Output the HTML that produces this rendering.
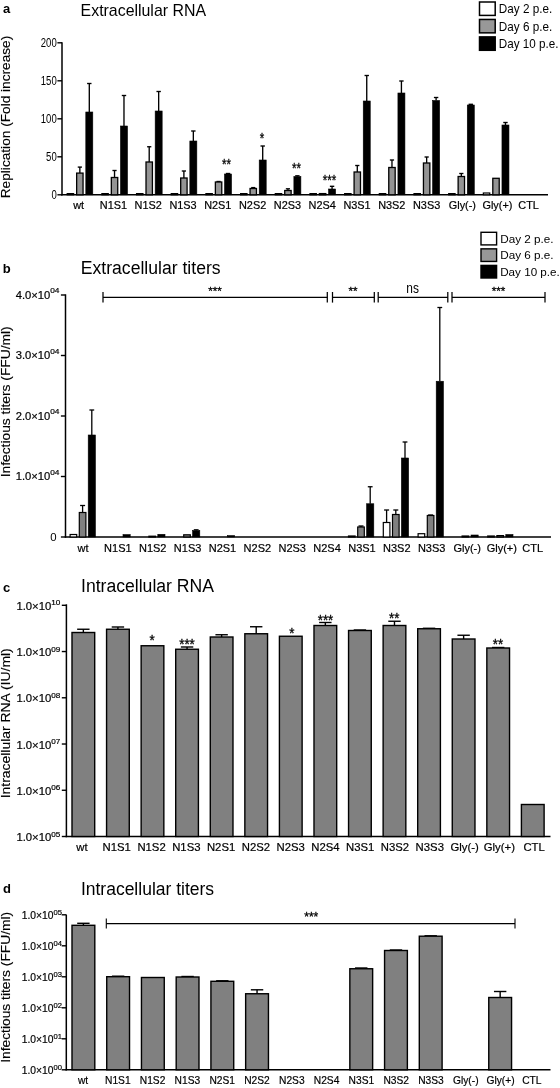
<!DOCTYPE html>
<html><head><meta charset="utf-8"><title>Figure</title>
<style>
html,body{margin:0;padding:0;background:#fff;}
body{width:560px;height:1088px;overflow:hidden;}
svg{display:block;font-family:'Liberation Sans', Arial, sans-serif;fill:#000;}
svg text.s{stroke:#000;stroke-width:0.2px;}
svg text.st{stroke:#000;stroke-width:0.3px;}
svg text.v{stroke:#000;stroke-width:0.12px;}
</style></head><body>
<svg width="560" height="1088" viewBox="0 0 560 1088">
<rect x="0" y="0" width="560" height="1088" fill="#fff" stroke="none"/>
<text x="3" y="13.2" font-size="13" text-anchor="start" font-weight="bold" >a</text>
<text x="143.3" y="16" font-size="15.9" text-anchor="middle" >Extracellular RNA</text>
<text class="v" transform="translate(9.9,198.25) rotate(-90)" font-size="12.9" textLength="162.5" lengthAdjust="spacingAndGlyphs">Replication (Fold increase)</text>
<line x1="62" y1="42.3" x2="62" y2="195.5" stroke="#000" stroke-width="1.5"/>
<line x1="61.3" y1="194.8" x2="548" y2="194.8" stroke="#000" stroke-width="1.5"/>
<line x1="57.4" y1="194.8" x2="62" y2="194.8" stroke="#000" stroke-width="1.4"/>
<text x="56.7" y="199.3" font-size="12.5" text-anchor="end" textLength="5.3" lengthAdjust="spacingAndGlyphs" >0</text>
<line x1="57.4" y1="156.8" x2="62" y2="156.8" stroke="#000" stroke-width="1.4"/>
<text x="56.7" y="161.3" font-size="12.5" text-anchor="end" textLength="10.6" lengthAdjust="spacingAndGlyphs" >50</text>
<line x1="57.4" y1="118.80000000000001" x2="62" y2="118.80000000000001" stroke="#000" stroke-width="1.4"/>
<text x="56.7" y="123.30000000000001" font-size="12.5" text-anchor="end" textLength="15.899999999999999" lengthAdjust="spacingAndGlyphs" >100</text>
<line x1="57.4" y1="80.80000000000001" x2="62" y2="80.80000000000001" stroke="#000" stroke-width="1.4"/>
<text x="56.7" y="85.30000000000001" font-size="12.5" text-anchor="end" textLength="15.899999999999999" lengthAdjust="spacingAndGlyphs" >150</text>
<line x1="57.4" y1="42.80000000000001" x2="62" y2="42.80000000000001" stroke="#000" stroke-width="1.4"/>
<text x="56.7" y="47.30000000000001" font-size="12.5" text-anchor="end" textLength="15.899999999999999" lengthAdjust="spacingAndGlyphs" >200</text>
<rect x="479.50" y="2.00" width="15.70" height="13.40" fill="#fff" stroke="#000" stroke-width="1.5"/>
<text x="498.8" y="13.3" font-size="12.4" text-anchor="start" textLength="53.4" lengthAdjust="spacingAndGlyphs" >Day 2 p.e.</text>
<rect x="479.50" y="19.45" width="15.70" height="13.40" fill="#989898" stroke="#000" stroke-width="1.5"/>
<text x="498.8" y="30.75" font-size="12.4" text-anchor="start" textLength="53.4" lengthAdjust="spacingAndGlyphs" >Day 6 p.e.</text>
<rect x="479.50" y="36.90" width="15.70" height="13.40" fill="#000" stroke="#000" stroke-width="1.5"/>
<text x="498.8" y="48.2" font-size="12.4" text-anchor="start" textLength="59.6" lengthAdjust="spacingAndGlyphs" >Day 10 p.e.</text>
<rect x="67.20" y="193.60" width="6.40" height="1.20" fill="#fff" stroke="#000" stroke-width="1.2"/>
<line x1="79.85000000000001" y1="167.1" x2="79.85000000000001" y2="173.1" stroke="#000" stroke-width="1.35"/>
<line x1="77.75000000000001" y1="167.1" x2="81.95" y2="167.1" stroke="#000" stroke-width="1.35"/>
<rect x="76.65" y="173.10" width="6.40" height="21.70" fill="#949494" stroke="#000" stroke-width="1.3"/>
<line x1="89.30000000000001" y1="83.5" x2="89.30000000000001" y2="112" stroke="#000" stroke-width="1.35"/>
<line x1="87.10000000000001" y1="83.5" x2="91.50000000000001" y2="83.5" stroke="#000" stroke-width="1.35"/>
<rect x="85.80" y="112.00" width="7.00" height="82.80" fill="#000" stroke="#000" stroke-width="0.6"/>
<rect x="101.88" y="193.60" width="6.40" height="1.20" fill="#fff" stroke="#000" stroke-width="1.2"/>
<line x1="114.53" y1="170.5" x2="114.53" y2="177.5" stroke="#000" stroke-width="1.35"/>
<line x1="112.43" y1="170.5" x2="116.63" y2="170.5" stroke="#000" stroke-width="1.35"/>
<rect x="111.33" y="177.50" width="6.40" height="17.30" fill="#949494" stroke="#000" stroke-width="1.3"/>
<line x1="123.98" y1="95.5" x2="123.98" y2="126" stroke="#000" stroke-width="1.35"/>
<line x1="121.78" y1="95.5" x2="126.18" y2="95.5" stroke="#000" stroke-width="1.35"/>
<rect x="120.48" y="126.00" width="7.00" height="68.80" fill="#000" stroke="#000" stroke-width="0.6"/>
<rect x="136.56" y="193.60" width="6.40" height="1.20" fill="#fff" stroke="#000" stroke-width="1.2"/>
<line x1="149.21" y1="146.75" x2="149.21" y2="162" stroke="#000" stroke-width="1.35"/>
<line x1="147.11" y1="146.75" x2="151.31" y2="146.75" stroke="#000" stroke-width="1.35"/>
<rect x="146.01" y="162.00" width="6.40" height="32.80" fill="#949494" stroke="#000" stroke-width="1.3"/>
<line x1="158.66000000000003" y1="91.5" x2="158.66000000000003" y2="111" stroke="#000" stroke-width="1.35"/>
<line x1="156.46000000000004" y1="91.5" x2="160.86" y2="91.5" stroke="#000" stroke-width="1.35"/>
<rect x="155.16" y="111.00" width="7.00" height="83.80" fill="#000" stroke="#000" stroke-width="0.6"/>
<rect x="171.24" y="193.60" width="6.40" height="1.20" fill="#fff" stroke="#000" stroke-width="1.2"/>
<line x1="183.89000000000001" y1="171" x2="183.89000000000001" y2="178" stroke="#000" stroke-width="1.35"/>
<line x1="181.79000000000002" y1="171" x2="185.99" y2="171" stroke="#000" stroke-width="1.35"/>
<rect x="180.69" y="178.00" width="6.40" height="16.80" fill="#949494" stroke="#000" stroke-width="1.3"/>
<line x1="193.34000000000003" y1="131" x2="193.34000000000003" y2="141" stroke="#000" stroke-width="1.35"/>
<line x1="191.14000000000004" y1="131" x2="195.54000000000002" y2="131" stroke="#000" stroke-width="1.35"/>
<rect x="189.84" y="141.00" width="7.00" height="53.80" fill="#000" stroke="#000" stroke-width="0.6"/>
<rect x="205.92" y="193.60" width="6.40" height="1.20" fill="#fff" stroke="#000" stroke-width="1.2"/>
<line x1="218.57000000000002" y1="181.5" x2="218.57000000000002" y2="182" stroke="#000" stroke-width="1.35"/>
<line x1="216.47000000000003" y1="181.5" x2="220.67000000000002" y2="181.5" stroke="#000" stroke-width="1.35"/>
<rect x="215.37" y="182.00" width="6.40" height="12.80" fill="#949494" stroke="#000" stroke-width="1.3"/>
<line x1="228.02000000000004" y1="173.5" x2="228.02000000000004" y2="174" stroke="#000" stroke-width="1.35"/>
<line x1="225.82000000000005" y1="173.5" x2="230.22000000000003" y2="173.5" stroke="#000" stroke-width="1.35"/>
<rect x="224.52" y="174.00" width="7.00" height="20.80" fill="#000" stroke="#000" stroke-width="0.6"/>
<rect x="240.60" y="193.60" width="6.40" height="1.20" fill="#fff" stroke="#000" stroke-width="1.2"/>
<line x1="253.25000000000003" y1="187.6" x2="253.25000000000003" y2="188.5" stroke="#000" stroke-width="1.35"/>
<line x1="251.15000000000003" y1="187.6" x2="255.35000000000002" y2="187.6" stroke="#000" stroke-width="1.35"/>
<rect x="250.05" y="188.50" width="6.40" height="6.30" fill="#949494" stroke="#000" stroke-width="1.3"/>
<line x1="262.70000000000005" y1="146" x2="262.70000000000005" y2="160" stroke="#000" stroke-width="1.35"/>
<line x1="260.50000000000006" y1="146" x2="264.90000000000003" y2="146" stroke="#000" stroke-width="1.35"/>
<rect x="259.20" y="160.00" width="7.00" height="34.80" fill="#000" stroke="#000" stroke-width="0.6"/>
<rect x="275.28" y="193.60" width="6.40" height="1.20" fill="#fff" stroke="#000" stroke-width="1.2"/>
<line x1="287.92999999999995" y1="188.8" x2="287.92999999999995" y2="190.5" stroke="#000" stroke-width="1.35"/>
<line x1="285.8299999999999" y1="188.8" x2="290.03" y2="188.8" stroke="#000" stroke-width="1.35"/>
<rect x="284.73" y="190.50" width="6.40" height="4.30" fill="#949494" stroke="#000" stroke-width="1.3"/>
<line x1="297.37999999999994" y1="175.8" x2="297.37999999999994" y2="176.5" stroke="#000" stroke-width="1.35"/>
<line x1="295.17999999999995" y1="175.8" x2="299.5799999999999" y2="175.8" stroke="#000" stroke-width="1.35"/>
<rect x="293.88" y="176.50" width="7.00" height="18.30" fill="#000" stroke="#000" stroke-width="0.6"/>
<rect x="309.96" y="193.60" width="6.40" height="1.20" fill="#fff" stroke="#000" stroke-width="1.2"/>
<rect x="319.41" y="193.60" width="6.40" height="1.20" fill="#949494" stroke="#000" stroke-width="1.3"/>
<line x1="332.05999999999995" y1="186.3" x2="332.05999999999995" y2="189" stroke="#000" stroke-width="1.35"/>
<line x1="329.85999999999996" y1="186.3" x2="334.25999999999993" y2="186.3" stroke="#000" stroke-width="1.35"/>
<rect x="328.56" y="189.00" width="7.00" height="5.80" fill="#000" stroke="#000" stroke-width="0.6"/>
<rect x="344.64" y="193.60" width="6.40" height="1.20" fill="#fff" stroke="#000" stroke-width="1.2"/>
<line x1="357.28999999999996" y1="165.5" x2="357.28999999999996" y2="172" stroke="#000" stroke-width="1.35"/>
<line x1="355.18999999999994" y1="165.5" x2="359.39" y2="165.5" stroke="#000" stroke-width="1.35"/>
<rect x="354.09" y="172.00" width="6.40" height="22.80" fill="#949494" stroke="#000" stroke-width="1.3"/>
<line x1="366.73999999999995" y1="75.5" x2="366.73999999999995" y2="101" stroke="#000" stroke-width="1.35"/>
<line x1="364.53999999999996" y1="75.5" x2="368.93999999999994" y2="75.5" stroke="#000" stroke-width="1.35"/>
<rect x="363.24" y="101.00" width="7.00" height="93.80" fill="#000" stroke="#000" stroke-width="0.6"/>
<rect x="379.32" y="193.60" width="6.40" height="1.20" fill="#fff" stroke="#000" stroke-width="1.2"/>
<line x1="391.96999999999997" y1="160" x2="391.96999999999997" y2="167.5" stroke="#000" stroke-width="1.35"/>
<line x1="389.86999999999995" y1="160" x2="394.07" y2="160" stroke="#000" stroke-width="1.35"/>
<rect x="388.77" y="167.50" width="6.40" height="27.30" fill="#949494" stroke="#000" stroke-width="1.3"/>
<line x1="401.41999999999996" y1="81" x2="401.41999999999996" y2="93" stroke="#000" stroke-width="1.35"/>
<line x1="399.21999999999997" y1="81" x2="403.61999999999995" y2="81" stroke="#000" stroke-width="1.35"/>
<rect x="397.92" y="93.00" width="7.00" height="101.80" fill="#000" stroke="#000" stroke-width="0.6"/>
<rect x="414.00" y="193.60" width="6.40" height="1.20" fill="#fff" stroke="#000" stroke-width="1.2"/>
<line x1="426.65" y1="157" x2="426.65" y2="163" stroke="#000" stroke-width="1.35"/>
<line x1="424.54999999999995" y1="157" x2="428.75" y2="157" stroke="#000" stroke-width="1.35"/>
<rect x="423.45" y="163.00" width="6.40" height="31.80" fill="#949494" stroke="#000" stroke-width="1.3"/>
<line x1="436.09999999999997" y1="97.5" x2="436.09999999999997" y2="100.5" stroke="#000" stroke-width="1.35"/>
<line x1="433.9" y1="97.5" x2="438.29999999999995" y2="97.5" stroke="#000" stroke-width="1.35"/>
<rect x="432.60" y="100.50" width="7.00" height="94.30" fill="#000" stroke="#000" stroke-width="0.6"/>
<rect x="448.68" y="193.60" width="6.40" height="1.20" fill="#fff" stroke="#000" stroke-width="1.2"/>
<line x1="461.33" y1="173.5" x2="461.33" y2="176.5" stroke="#000" stroke-width="1.35"/>
<line x1="459.22999999999996" y1="173.5" x2="463.43" y2="173.5" stroke="#000" stroke-width="1.35"/>
<rect x="458.13" y="176.50" width="6.40" height="18.30" fill="#949494" stroke="#000" stroke-width="1.3"/>
<line x1="470.78" y1="104.3" x2="470.78" y2="105" stroke="#000" stroke-width="1.35"/>
<line x1="468.58" y1="104.3" x2="472.97999999999996" y2="104.3" stroke="#000" stroke-width="1.35"/>
<rect x="467.28" y="105.00" width="7.00" height="89.80" fill="#000" stroke="#000" stroke-width="0.6"/>
<rect x="483.36" y="193.00" width="6.40" height="1.80" fill="#fff" stroke="#000" stroke-width="1.2"/>
<rect x="492.81" y="178.30" width="6.40" height="16.50" fill="#949494" stroke="#000" stroke-width="1.3"/>
<line x1="505.4599999999999" y1="122.5" x2="505.4599999999999" y2="125" stroke="#000" stroke-width="1.35"/>
<line x1="503.25999999999993" y1="122.5" x2="507.6599999999999" y2="122.5" stroke="#000" stroke-width="1.35"/>
<rect x="501.96" y="125.00" width="7.00" height="69.80" fill="#000" stroke="#000" stroke-width="0.6"/>
<text x="78.6" y="208.6" font-size="10.9" text-anchor="middle" class="s">wt</text>
<text x="113.39999999999999" y="208.6" font-size="10.9" text-anchor="middle" class="s">N1S1</text>
<text x="148.2" y="208.6" font-size="10.9" text-anchor="middle" class="s">N1S2</text>
<text x="183.0" y="208.6" font-size="10.9" text-anchor="middle" class="s">N1S3</text>
<text x="217.79999999999998" y="208.6" font-size="10.9" text-anchor="middle" class="s">N2S1</text>
<text x="252.6" y="208.6" font-size="10.9" text-anchor="middle" class="s">N2S2</text>
<text x="287.4" y="208.6" font-size="10.9" text-anchor="middle" class="s">N2S3</text>
<text x="322.19999999999993" y="208.6" font-size="10.9" text-anchor="middle" class="s">N2S4</text>
<text x="357.0" y="208.6" font-size="10.9" text-anchor="middle" class="s">N3S1</text>
<text x="391.79999999999995" y="208.6" font-size="10.9" text-anchor="middle" class="s">N3S2</text>
<text x="426.6" y="208.6" font-size="10.9" text-anchor="middle" class="s">N3S3</text>
<text x="462.4" y="208.6" font-size="10.9" text-anchor="middle" class="s">Gly(-)</text>
<text x="497.4" y="208.6" font-size="10.9" text-anchor="middle" class="s">Gly(+)</text>
<text x="528.6" y="208.6" font-size="10.9" text-anchor="middle" class="s">CTL</text>
<text class="st" x="222.10" y="169.10" font-size="14" textLength="9.0" lengthAdjust="spacingAndGlyphs">**</text>
<text class="st" x="259.85" y="142.80" font-size="14" textLength="4.5" lengthAdjust="spacingAndGlyphs">*</text>
<text class="st" x="291.90" y="173.30" font-size="14" textLength="9.0" lengthAdjust="spacingAndGlyphs">**</text>
<text class="st" x="322.65" y="184.80" font-size="14" textLength="13.5" lengthAdjust="spacingAndGlyphs">***</text>
<text x="2.8" y="273" font-size="13" text-anchor="start" font-weight="bold" >b</text>
<text x="150.7" y="274" font-size="17.6" text-anchor="middle" >Extracellular titers</text>
<text class="v" transform="translate(9.9,477.3) rotate(-90)" font-size="12.3" textLength="151" lengthAdjust="spacingAndGlyphs">Infectious titers (FFU/ml)</text>
<line x1="65.5" y1="294.3" x2="65.5" y2="537.7" stroke="#000" stroke-width="1.5"/>
<line x1="64.8" y1="537" x2="551" y2="537" stroke="#000" stroke-width="1.5"/>
<line x1="60.9" y1="537.0" x2="65.5" y2="537.0" stroke="#000" stroke-width="1.4"/>
<text x="56.5" y="541.0" font-size="11.4" text-anchor="end" >0</text>
<line x1="60.9" y1="476.5" x2="65.5" y2="476.5" stroke="#000" stroke-width="1.4"/>
<text class="s" x="15.70" y="480.3" font-size="10.8" textLength="43.8" lengthAdjust="spacingAndGlyphs">1.0×10<tspan font-size="8" dy="-5.4">04</tspan></text>
<line x1="60.9" y1="416.0" x2="65.5" y2="416.0" stroke="#000" stroke-width="1.4"/>
<text class="s" x="15.70" y="419.8" font-size="10.8" textLength="43.8" lengthAdjust="spacingAndGlyphs">2.0×10<tspan font-size="8" dy="-5.4">04</tspan></text>
<line x1="60.9" y1="355.5" x2="65.5" y2="355.5" stroke="#000" stroke-width="1.4"/>
<text class="s" x="15.70" y="359.3" font-size="10.8" textLength="43.8" lengthAdjust="spacingAndGlyphs">3.0×10<tspan font-size="8" dy="-5.4">04</tspan></text>
<line x1="60.9" y1="295.0" x2="65.5" y2="295.0" stroke="#000" stroke-width="1.4"/>
<text class="s" x="15.70" y="298.8" font-size="10.8" textLength="43.8" lengthAdjust="spacingAndGlyphs">4.0×10<tspan font-size="8" dy="-5.4">04</tspan></text>
<rect x="481.00" y="232.30" width="15.60" height="12.60" fill="#fff" stroke="#000" stroke-width="1.4"/>
<text x="500.2" y="242.5" font-size="11.2" text-anchor="start" textLength="53.4" lengthAdjust="spacingAndGlyphs" >Day 2 p.e.</text>
<rect x="481.00" y="248.85" width="15.60" height="12.60" fill="#989898" stroke="#000" stroke-width="1.4"/>
<text x="500.2" y="259.05" font-size="11.2" text-anchor="start" textLength="53.4" lengthAdjust="spacingAndGlyphs" >Day 6 p.e.</text>
<rect x="481.00" y="265.40" width="15.60" height="12.60" fill="#000" stroke="#000" stroke-width="1.4"/>
<text x="500.2" y="275.6" font-size="11.2" text-anchor="start" textLength="59.6" lengthAdjust="spacingAndGlyphs" >Day 10 p.e.</text>
<line x1="103" y1="297.3" x2="327.3" y2="297.3" stroke="#000" stroke-width="1.25"/>
<line x1="103" y1="292.0" x2="103" y2="302.6" stroke="#000" stroke-width="1.25"/>
<line x1="327.3" y1="292.0" x2="327.3" y2="302.6" stroke="#000" stroke-width="1.25"/>
<text class="st" x="208.25" y="294.95" font-size="11.5" textLength="13.5" lengthAdjust="spacingAndGlyphs">***</text>
<line x1="332.5" y1="297.3" x2="374.3" y2="297.3" stroke="#000" stroke-width="1.25"/>
<line x1="332.5" y1="292.0" x2="332.5" y2="302.6" stroke="#000" stroke-width="1.25"/>
<line x1="374.3" y1="292.0" x2="374.3" y2="302.6" stroke="#000" stroke-width="1.25"/>
<text class="st" x="348.50" y="294.95" font-size="11.5" textLength="9.0" lengthAdjust="spacingAndGlyphs">**</text>
<line x1="378.2" y1="297.3" x2="447.8" y2="297.3" stroke="#000" stroke-width="1.25"/>
<line x1="378.2" y1="292.0" x2="378.2" y2="302.6" stroke="#000" stroke-width="1.25"/>
<line x1="447.8" y1="292.0" x2="447.8" y2="302.6" stroke="#000" stroke-width="1.25"/>
<text x="406.3" y="293.1" font-size="14" text-anchor="start" textLength="12.6" lengthAdjust="spacingAndGlyphs" >ns</text>
<line x1="452" y1="297.3" x2="545" y2="297.3" stroke="#000" stroke-width="1.25"/>
<line x1="452" y1="292.0" x2="452" y2="302.6" stroke="#000" stroke-width="1.25"/>
<line x1="545" y1="292.0" x2="545" y2="302.6" stroke="#000" stroke-width="1.25"/>
<text class="st" x="491.75" y="294.95" font-size="11.5" textLength="13.5" lengthAdjust="spacingAndGlyphs">***</text>
<rect x="70.10" y="534.50" width="6.60" height="2.50" fill="#fff" stroke="#000" stroke-width="1.2"/>
<line x1="82.59999999999998" y1="505.5" x2="82.59999999999998" y2="512.5" stroke="#000" stroke-width="1.3"/>
<line x1="80.09999999999998" y1="505.5" x2="85.09999999999998" y2="505.5" stroke="#000" stroke-width="1.3"/>
<rect x="79.30" y="512.50" width="6.60" height="24.50" fill="#808080" stroke="#000" stroke-width="1.2"/>
<line x1="91.79999999999997" y1="410" x2="91.79999999999997" y2="435" stroke="#000" stroke-width="1.3"/>
<line x1="89.39999999999996" y1="410" x2="94.19999999999997" y2="410" stroke="#000" stroke-width="1.3"/>
<rect x="88.20" y="435.00" width="7.20" height="102.00" fill="#000" stroke="#000" stroke-width="0.6"/>
<rect x="123.00" y="534.60" width="7.20" height="2.40" fill="#000" stroke="#000" stroke-width="0.6"/>
<rect x="148.90" y="536.20" width="6.60" height="0.80" fill="#808080" stroke="#000" stroke-width="1.2"/>
<rect x="157.80" y="534.30" width="7.20" height="2.70" fill="#000" stroke="#000" stroke-width="0.6"/>
<rect x="183.70" y="534.80" width="6.60" height="2.20" fill="#808080" stroke="#000" stroke-width="1.2"/>
<line x1="196.2" y1="529.8" x2="196.2" y2="530.5" stroke="#000" stroke-width="1.3"/>
<line x1="193.79999999999998" y1="529.8" x2="198.6" y2="529.8" stroke="#000" stroke-width="1.3"/>
<rect x="192.60" y="530.50" width="7.20" height="6.50" fill="#000" stroke="#000" stroke-width="0.6"/>
<rect x="227.40" y="535.60" width="7.20" height="1.40" fill="#000" stroke="#000" stroke-width="0.6"/>
<rect x="348.50" y="536.00" width="6.60" height="1.00" fill="#fff" stroke="#000" stroke-width="1.2"/>
<line x1="361.00000000000006" y1="526" x2="361.00000000000006" y2="527" stroke="#000" stroke-width="1.3"/>
<line x1="358.50000000000006" y1="526" x2="363.50000000000006" y2="526" stroke="#000" stroke-width="1.3"/>
<rect x="357.70" y="527.00" width="6.60" height="10.00" fill="#808080" stroke="#000" stroke-width="1.2"/>
<line x1="370.2000000000001" y1="486.75" x2="370.2000000000001" y2="503.75" stroke="#000" stroke-width="1.3"/>
<line x1="367.8000000000001" y1="486.75" x2="372.6000000000001" y2="486.75" stroke="#000" stroke-width="1.3"/>
<rect x="366.60" y="503.75" width="7.20" height="33.25" fill="#000" stroke="#000" stroke-width="0.6"/>
<line x1="386.59999999999997" y1="510" x2="386.59999999999997" y2="522.5" stroke="#000" stroke-width="1.3"/>
<line x1="384.09999999999997" y1="510" x2="389.09999999999997" y2="510" stroke="#000" stroke-width="1.3"/>
<rect x="383.30" y="522.50" width="6.60" height="14.50" fill="#fff" stroke="#000" stroke-width="1.2"/>
<line x1="395.8" y1="510" x2="395.8" y2="514.5" stroke="#000" stroke-width="1.3"/>
<line x1="393.3" y1="510" x2="398.3" y2="510" stroke="#000" stroke-width="1.3"/>
<rect x="392.50" y="514.50" width="6.60" height="22.50" fill="#808080" stroke="#000" stroke-width="1.2"/>
<line x1="405.00000000000006" y1="442" x2="405.00000000000006" y2="458" stroke="#000" stroke-width="1.3"/>
<line x1="402.6000000000001" y1="442" x2="407.40000000000003" y2="442" stroke="#000" stroke-width="1.3"/>
<rect x="401.40" y="458.00" width="7.20" height="79.00" fill="#000" stroke="#000" stroke-width="0.6"/>
<rect x="418.10" y="533.70" width="6.60" height="3.30" fill="#fff" stroke="#000" stroke-width="1.2"/>
<line x1="430.6000000000001" y1="515" x2="430.6000000000001" y2="515.5" stroke="#000" stroke-width="1.3"/>
<line x1="428.1000000000001" y1="515" x2="433.1000000000001" y2="515" stroke="#000" stroke-width="1.3"/>
<rect x="427.30" y="515.50" width="6.60" height="21.50" fill="#808080" stroke="#000" stroke-width="1.2"/>
<line x1="439.8000000000001" y1="307.5" x2="439.8000000000001" y2="381.25" stroke="#000" stroke-width="1.3"/>
<line x1="437.40000000000015" y1="307.5" x2="442.2000000000001" y2="307.5" stroke="#000" stroke-width="1.3"/>
<rect x="436.20" y="381.25" width="7.20" height="155.75" fill="#000" stroke="#000" stroke-width="0.6"/>
<rect x="462.10" y="536.00" width="6.60" height="1.00" fill="#808080" stroke="#000" stroke-width="1.2"/>
<rect x="471.00" y="535.00" width="7.20" height="2.00" fill="#000" stroke="#000" stroke-width="0.6"/>
<rect x="487.70" y="536.00" width="6.60" height="1.00" fill="#fff" stroke="#000" stroke-width="1.2"/>
<rect x="496.90" y="535.60" width="6.60" height="1.40" fill="#808080" stroke="#000" stroke-width="1.2"/>
<rect x="505.80" y="534.50" width="7.20" height="2.50" fill="#000" stroke="#000" stroke-width="0.6"/>
<text x="83.0" y="552" font-size="11" text-anchor="middle" class="s">wt</text>
<text x="117.87" y="552" font-size="11" text-anchor="middle" class="s">N1S1</text>
<text x="152.74" y="552" font-size="11" text-anchor="middle" class="s">N1S2</text>
<text x="187.60999999999999" y="552" font-size="11" text-anchor="middle" class="s">N1S3</text>
<text x="222.48" y="552" font-size="11" text-anchor="middle" class="s">N2S1</text>
<text x="257.35" y="552" font-size="11" text-anchor="middle" class="s">N2S2</text>
<text x="292.21999999999997" y="552" font-size="11" text-anchor="middle" class="s">N2S3</text>
<text x="327.09" y="552" font-size="11" text-anchor="middle" class="s">N2S4</text>
<text x="361.96" y="552" font-size="11" text-anchor="middle" class="s">N3S1</text>
<text x="396.83" y="552" font-size="11" text-anchor="middle" class="s">N3S2</text>
<text x="431.7" y="552" font-size="11" text-anchor="middle" class="s">N3S3</text>
<text x="467.2" y="552" font-size="11" text-anchor="middle" class="s">Gly(-)</text>
<text x="501.8" y="552" font-size="11" text-anchor="middle" class="s">Gly(+)</text>
<text x="532.7" y="552" font-size="11" text-anchor="middle" class="s">CTL</text>
<text x="3" y="592" font-size="13" text-anchor="start" font-weight="bold" >c</text>
<text x="147.5" y="592.3" font-size="17.6" text-anchor="middle" >Intracellular RNA</text>
<text class="v" transform="translate(9.9,798.3) rotate(-90)" font-size="12.3" textLength="150" lengthAdjust="spacingAndGlyphs">Intracellular RNA (IU/ml)</text>
<line x1="66.4" y1="604.3" x2="66.4" y2="837.2" stroke="#000" stroke-width="1.5"/>
<line x1="65.7" y1="836.5" x2="550.5" y2="836.5" stroke="#000" stroke-width="1.5"/>
<line x1="61.800000000000004" y1="836.5" x2="66.4" y2="836.5" stroke="#000" stroke-width="1.4"/>
<text class="s" x="16.40" y="841.2" font-size="10.8" textLength="44" lengthAdjust="spacingAndGlyphs">1.0×10<tspan font-size="7.8" dy="-4.7">05</tspan></text>
<line x1="61.800000000000004" y1="790.26" x2="66.4" y2="790.26" stroke="#000" stroke-width="1.4"/>
<text class="s" x="16.40" y="794.96" font-size="10.8" textLength="44" lengthAdjust="spacingAndGlyphs">1.0×10<tspan font-size="7.8" dy="-4.7">06</tspan></text>
<line x1="61.800000000000004" y1="744.02" x2="66.4" y2="744.02" stroke="#000" stroke-width="1.4"/>
<text class="s" x="16.40" y="748.72" font-size="10.8" textLength="44" lengthAdjust="spacingAndGlyphs">1.0×10<tspan font-size="7.8" dy="-4.7">07</tspan></text>
<line x1="61.800000000000004" y1="697.78" x2="66.4" y2="697.78" stroke="#000" stroke-width="1.4"/>
<text class="s" x="16.40" y="702.48" font-size="10.8" textLength="44" lengthAdjust="spacingAndGlyphs">1.0×10<tspan font-size="7.8" dy="-4.7">08</tspan></text>
<line x1="61.800000000000004" y1="651.54" x2="66.4" y2="651.54" stroke="#000" stroke-width="1.4"/>
<text class="s" x="16.40" y="656.24" font-size="10.8" textLength="44" lengthAdjust="spacingAndGlyphs">1.0×10<tspan font-size="7.8" dy="-4.7">09</tspan></text>
<line x1="61.800000000000004" y1="605.3" x2="66.4" y2="605.3" stroke="#000" stroke-width="1.4"/>
<text class="s" x="16.40" y="610.0" font-size="10.8" textLength="44" lengthAdjust="spacingAndGlyphs">1.0×10<tspan font-size="7.8" dy="-4.7">10</tspan></text>
<line x1="83.35" y1="629.25" x2="83.35" y2="632.5" stroke="#000" stroke-width="1.4"/>
<line x1="77.14999999999999" y1="629.25" x2="89.55" y2="629.25" stroke="#000" stroke-width="1.4"/>
<rect x="72.00" y="632.50" width="22.70" height="204.00" fill="#808080" stroke="#000" stroke-width="1.4"/>
<line x1="117.91999999999999" y1="627" x2="117.91999999999999" y2="629.25" stroke="#000" stroke-width="1.4"/>
<line x1="111.71999999999998" y1="627" x2="124.11999999999999" y2="627" stroke="#000" stroke-width="1.4"/>
<rect x="106.57" y="629.25" width="22.70" height="207.25" fill="#808080" stroke="#000" stroke-width="1.4"/>
<rect x="141.14" y="645.75" width="22.70" height="190.75" fill="#808080" stroke="#000" stroke-width="1.4"/>
<line x1="187.06" y1="647" x2="187.06" y2="649.25" stroke="#000" stroke-width="1.4"/>
<line x1="180.86" y1="647" x2="193.26" y2="647" stroke="#000" stroke-width="1.4"/>
<rect x="175.71" y="649.25" width="22.70" height="187.25" fill="#808080" stroke="#000" stroke-width="1.4"/>
<line x1="221.63" y1="634.75" x2="221.63" y2="637" stroke="#000" stroke-width="1.4"/>
<line x1="215.43" y1="634.75" x2="227.82999999999998" y2="634.75" stroke="#000" stroke-width="1.4"/>
<rect x="210.28" y="637.00" width="22.70" height="199.50" fill="#808080" stroke="#000" stroke-width="1.4"/>
<line x1="256.2" y1="626.75" x2="256.2" y2="633.75" stroke="#000" stroke-width="1.4"/>
<line x1="250.0" y1="626.75" x2="262.4" y2="626.75" stroke="#000" stroke-width="1.4"/>
<rect x="244.85" y="633.75" width="22.70" height="202.75" fill="#808080" stroke="#000" stroke-width="1.4"/>
<rect x="279.42" y="636.25" width="22.70" height="200.25" fill="#808080" stroke="#000" stroke-width="1.4"/>
<line x1="325.34000000000003" y1="622.5" x2="325.34000000000003" y2="625.5" stroke="#000" stroke-width="1.4"/>
<line x1="319.14000000000004" y1="622.5" x2="331.54" y2="622.5" stroke="#000" stroke-width="1.4"/>
<rect x="313.99" y="625.50" width="22.70" height="211.00" fill="#808080" stroke="#000" stroke-width="1.4"/>
<line x1="359.91" y1="630" x2="359.91" y2="630.5" stroke="#000" stroke-width="1.4"/>
<line x1="353.71000000000004" y1="630" x2="366.11" y2="630" stroke="#000" stroke-width="1.4"/>
<rect x="348.56" y="630.50" width="22.70" height="206.00" fill="#808080" stroke="#000" stroke-width="1.4"/>
<line x1="394.48" y1="621.25" x2="394.48" y2="625.5" stroke="#000" stroke-width="1.4"/>
<line x1="388.28000000000003" y1="621.25" x2="400.68" y2="621.25" stroke="#000" stroke-width="1.4"/>
<rect x="383.13" y="625.50" width="22.70" height="211.00" fill="#808080" stroke="#000" stroke-width="1.4"/>
<line x1="429.05" y1="628.3" x2="429.05" y2="628.75" stroke="#000" stroke-width="1.4"/>
<line x1="422.85" y1="628.3" x2="435.25" y2="628.3" stroke="#000" stroke-width="1.4"/>
<rect x="417.70" y="628.75" width="22.70" height="207.75" fill="#808080" stroke="#000" stroke-width="1.4"/>
<line x1="463.62" y1="635.25" x2="463.62" y2="639" stroke="#000" stroke-width="1.4"/>
<line x1="457.42" y1="635.25" x2="469.82" y2="635.25" stroke="#000" stroke-width="1.4"/>
<rect x="452.27" y="639.00" width="22.70" height="197.50" fill="#808080" stroke="#000" stroke-width="1.4"/>
<line x1="498.19000000000005" y1="647.5" x2="498.19000000000005" y2="648" stroke="#000" stroke-width="1.4"/>
<line x1="491.99000000000007" y1="647.5" x2="504.39000000000004" y2="647.5" stroke="#000" stroke-width="1.4"/>
<rect x="486.84" y="648.00" width="22.70" height="188.50" fill="#808080" stroke="#000" stroke-width="1.4"/>
<rect x="521.41" y="804.50" width="22.70" height="32.00" fill="#808080" stroke="#000" stroke-width="1.4"/>
<text class="s" x="76.34" y="850.6" font-size="11.1" textLength="11.32" lengthAdjust="spacingAndGlyphs">wt</text>
<text class="s" x="102.62" y="850.6" font-size="11.1" textLength="28.32" lengthAdjust="spacingAndGlyphs">N1S1</text>
<text class="s" x="137.40" y="850.6" font-size="11.1" textLength="28.32" lengthAdjust="spacingAndGlyphs">N1S2</text>
<text class="s" x="172.18" y="850.6" font-size="11.1" textLength="28.32" lengthAdjust="spacingAndGlyphs">N1S3</text>
<text class="s" x="206.96" y="850.6" font-size="11.1" textLength="28.32" lengthAdjust="spacingAndGlyphs">N2S1</text>
<text class="s" x="241.74" y="850.6" font-size="11.1" textLength="28.32" lengthAdjust="spacingAndGlyphs">N2S2</text>
<text class="s" x="276.52" y="850.6" font-size="11.1" textLength="28.32" lengthAdjust="spacingAndGlyphs">N2S3</text>
<text class="s" x="311.30" y="850.6" font-size="11.1" textLength="28.32" lengthAdjust="spacingAndGlyphs">N2S4</text>
<text class="s" x="346.08" y="850.6" font-size="11.1" textLength="28.32" lengthAdjust="spacingAndGlyphs">N3S1</text>
<text class="s" x="380.86" y="850.6" font-size="11.1" textLength="28.32" lengthAdjust="spacingAndGlyphs">N3S2</text>
<text class="s" x="415.64" y="850.6" font-size="11.1" textLength="28.32" lengthAdjust="spacingAndGlyphs">N3S3</text>
<text class="s" x="450.43" y="850.6" font-size="11.1" textLength="28.30" lengthAdjust="spacingAndGlyphs">Gly(-)</text>
<text class="s" x="483.79" y="850.6" font-size="11.1" textLength="31.14" lengthAdjust="spacingAndGlyphs">Gly(+)</text>
<text class="s" x="523.45" y="850.6" font-size="11.1" textLength="21.39" lengthAdjust="spacingAndGlyphs">CTL</text>
<text class="st" x="149.40" y="645.10" font-size="14" textLength="5.2" lengthAdjust="spacingAndGlyphs">*</text>
<text class="st" x="179.20" y="649.10" font-size="14" textLength="15.600000000000001" lengthAdjust="spacingAndGlyphs">***</text>
<text class="st" x="289.15" y="638.10" font-size="14" textLength="5.2" lengthAdjust="spacingAndGlyphs">*</text>
<text class="st" x="317.70" y="624.60" font-size="14" textLength="15.600000000000001" lengthAdjust="spacingAndGlyphs">***</text>
<text class="st" x="389.05" y="623.10" font-size="14" textLength="10.4" lengthAdjust="spacingAndGlyphs">**</text>
<text class="st" x="492.80" y="649.10" font-size="14" textLength="10.4" lengthAdjust="spacingAndGlyphs">**</text>
<text x="3" y="893" font-size="13" text-anchor="start" font-weight="bold" >d</text>
<text x="147.5" y="894.8" font-size="17.5" text-anchor="middle" >Intracellular titers</text>
<text class="v" transform="translate(9.7,1062.8) rotate(-90)" font-size="12.3" textLength="151" lengthAdjust="spacingAndGlyphs">Infectious titers (FFU/ml)</text>
<line x1="66.3" y1="914.5999999999999" x2="66.3" y2="1070.5" stroke="#000" stroke-width="1.5"/>
<line x1="65.6" y1="1069.8" x2="550.5" y2="1069.8" stroke="#000" stroke-width="1.5"/>
<line x1="61.699999999999996" y1="1069.8" x2="66.3" y2="1069.8" stroke="#000" stroke-width="1.4"/>
<text class="s" x="21.80" y="1074.3999999999999" font-size="10.8" textLength="40.2" lengthAdjust="spacingAndGlyphs">1.0×10<tspan font-size="8" dy="-4.8">00</tspan></text>
<line x1="61.699999999999996" y1="1038.8" x2="66.3" y2="1038.8" stroke="#000" stroke-width="1.4"/>
<text class="s" x="21.80" y="1043.3999999999999" font-size="10.8" textLength="40.2" lengthAdjust="spacingAndGlyphs">1.0×10<tspan font-size="8" dy="-4.8">01</tspan></text>
<line x1="61.699999999999996" y1="1007.8" x2="66.3" y2="1007.8" stroke="#000" stroke-width="1.4"/>
<text class="s" x="21.80" y="1012.4" font-size="10.8" textLength="40.2" lengthAdjust="spacingAndGlyphs">1.0×10<tspan font-size="8" dy="-4.8">02</tspan></text>
<line x1="61.699999999999996" y1="976.8" x2="66.3" y2="976.8" stroke="#000" stroke-width="1.4"/>
<text class="s" x="21.80" y="981.4" font-size="10.8" textLength="40.2" lengthAdjust="spacingAndGlyphs">1.0×10<tspan font-size="8" dy="-4.8">03</tspan></text>
<line x1="61.699999999999996" y1="945.8" x2="66.3" y2="945.8" stroke="#000" stroke-width="1.4"/>
<text class="s" x="21.80" y="950.4" font-size="10.8" textLength="40.2" lengthAdjust="spacingAndGlyphs">1.0×10<tspan font-size="8" dy="-4.8">04</tspan></text>
<line x1="61.699999999999996" y1="914.8" x2="66.3" y2="914.8" stroke="#000" stroke-width="1.4"/>
<text class="s" x="21.80" y="919.4" font-size="10.8" textLength="40.2" lengthAdjust="spacingAndGlyphs">1.0×10<tspan font-size="8" dy="-4.8">05</tspan></text>
<line x1="106.3" y1="923.6" x2="515" y2="923.6" stroke="#000" stroke-width="1.1"/>
<line x1="106.3" y1="918.6" x2="106.3" y2="928.6" stroke="#000" stroke-width="1.1"/>
<line x1="515" y1="918.6" x2="515" y2="928.6" stroke="#000" stroke-width="1.1"/>
<text class="st" x="304.20" y="921.10" font-size="13" textLength="14.100000000000001" lengthAdjust="spacingAndGlyphs">***</text>
<line x1="83.4" y1="923.3" x2="83.4" y2="925.3" stroke="#000" stroke-width="1.4"/>
<line x1="77.2" y1="923.3" x2="89.60000000000001" y2="923.3" stroke="#000" stroke-width="1.4"/>
<rect x="72.00" y="925.30" width="22.80" height="144.50" fill="#808080" stroke="#000" stroke-width="1.4"/>
<line x1="118.13" y1="976.2" x2="118.13" y2="976.7" stroke="#000" stroke-width="1.4"/>
<line x1="111.92999999999999" y1="976.2" x2="124.33" y2="976.2" stroke="#000" stroke-width="1.4"/>
<rect x="106.73" y="976.70" width="22.80" height="93.10" fill="#808080" stroke="#000" stroke-width="1.4"/>
<rect x="141.46" y="977.50" width="22.80" height="92.30" fill="#808080" stroke="#000" stroke-width="1.4"/>
<line x1="187.59" y1="976.5" x2="187.59" y2="977" stroke="#000" stroke-width="1.4"/>
<line x1="181.39000000000001" y1="976.5" x2="193.79" y2="976.5" stroke="#000" stroke-width="1.4"/>
<rect x="176.19" y="977.00" width="22.80" height="92.80" fill="#808080" stroke="#000" stroke-width="1.4"/>
<line x1="222.32" y1="980.8" x2="222.32" y2="981.3" stroke="#000" stroke-width="1.4"/>
<line x1="216.12" y1="980.8" x2="228.51999999999998" y2="980.8" stroke="#000" stroke-width="1.4"/>
<rect x="210.92" y="981.30" width="22.80" height="88.50" fill="#808080" stroke="#000" stroke-width="1.4"/>
<line x1="257.04999999999995" y1="989.8" x2="257.04999999999995" y2="993.75" stroke="#000" stroke-width="1.4"/>
<line x1="250.84999999999997" y1="989.8" x2="263.24999999999994" y2="989.8" stroke="#000" stroke-width="1.4"/>
<rect x="245.65" y="993.75" width="22.80" height="76.05" fill="#808080" stroke="#000" stroke-width="1.4"/>
<line x1="361.23999999999995" y1="968" x2="361.23999999999995" y2="968.75" stroke="#000" stroke-width="1.4"/>
<line x1="355.03999999999996" y1="968" x2="367.43999999999994" y2="968" stroke="#000" stroke-width="1.4"/>
<rect x="349.84" y="968.75" width="22.80" height="101.05" fill="#808080" stroke="#000" stroke-width="1.4"/>
<line x1="395.96999999999997" y1="950" x2="395.96999999999997" y2="950.5" stroke="#000" stroke-width="1.4"/>
<line x1="389.77" y1="950" x2="402.16999999999996" y2="950" stroke="#000" stroke-width="1.4"/>
<rect x="384.57" y="950.50" width="22.80" height="119.30" fill="#808080" stroke="#000" stroke-width="1.4"/>
<line x1="430.69999999999993" y1="935.8" x2="430.69999999999993" y2="936.2" stroke="#000" stroke-width="1.4"/>
<line x1="424.49999999999994" y1="935.8" x2="436.8999999999999" y2="935.8" stroke="#000" stroke-width="1.4"/>
<rect x="419.30" y="936.20" width="22.80" height="133.60" fill="#808080" stroke="#000" stroke-width="1.4"/>
<line x1="500.15999999999997" y1="991.5" x2="500.15999999999997" y2="997.5" stroke="#000" stroke-width="1.4"/>
<line x1="493.96" y1="991.5" x2="506.35999999999996" y2="991.5" stroke="#000" stroke-width="1.4"/>
<rect x="488.76" y="997.50" width="22.80" height="72.30" fill="#808080" stroke="#000" stroke-width="1.4"/>
<text class="s" x="77.89" y="1084.4" font-size="11" textLength="10.23" lengthAdjust="spacingAndGlyphs">wt</text>
<text class="s" x="105.00" y="1084.4" font-size="11" textLength="25.59" lengthAdjust="spacingAndGlyphs">N1S1</text>
<text class="s" x="139.80" y="1084.4" font-size="11" textLength="25.59" lengthAdjust="spacingAndGlyphs">N1S2</text>
<text class="s" x="174.60" y="1084.4" font-size="11" textLength="25.59" lengthAdjust="spacingAndGlyphs">N1S3</text>
<text class="s" x="209.40" y="1084.4" font-size="11" textLength="25.59" lengthAdjust="spacingAndGlyphs">N2S1</text>
<text class="s" x="244.20" y="1084.4" font-size="11" textLength="25.59" lengthAdjust="spacingAndGlyphs">N2S2</text>
<text class="s" x="279.00" y="1084.4" font-size="11" textLength="25.59" lengthAdjust="spacingAndGlyphs">N2S3</text>
<text class="s" x="313.80" y="1084.4" font-size="11" textLength="25.59" lengthAdjust="spacingAndGlyphs">N2S4</text>
<text class="s" x="348.60" y="1084.4" font-size="11" textLength="25.59" lengthAdjust="spacingAndGlyphs">N3S1</text>
<text class="s" x="383.40" y="1084.4" font-size="11" textLength="25.59" lengthAdjust="spacingAndGlyphs">N3S2</text>
<text class="s" x="418.20" y="1084.4" font-size="11" textLength="25.59" lengthAdjust="spacingAndGlyphs">N3S3</text>
<text class="s" x="453.02" y="1084.4" font-size="11" textLength="25.57" lengthAdjust="spacingAndGlyphs">Gly(-)</text>
<text class="s" x="486.53" y="1084.4" font-size="11" textLength="28.13" lengthAdjust="spacingAndGlyphs">Gly(+)</text>
<text class="s" x="522.14" y="1084.4" font-size="11" textLength="19.33" lengthAdjust="spacingAndGlyphs">CTL</text>
</svg>
</body></html>
